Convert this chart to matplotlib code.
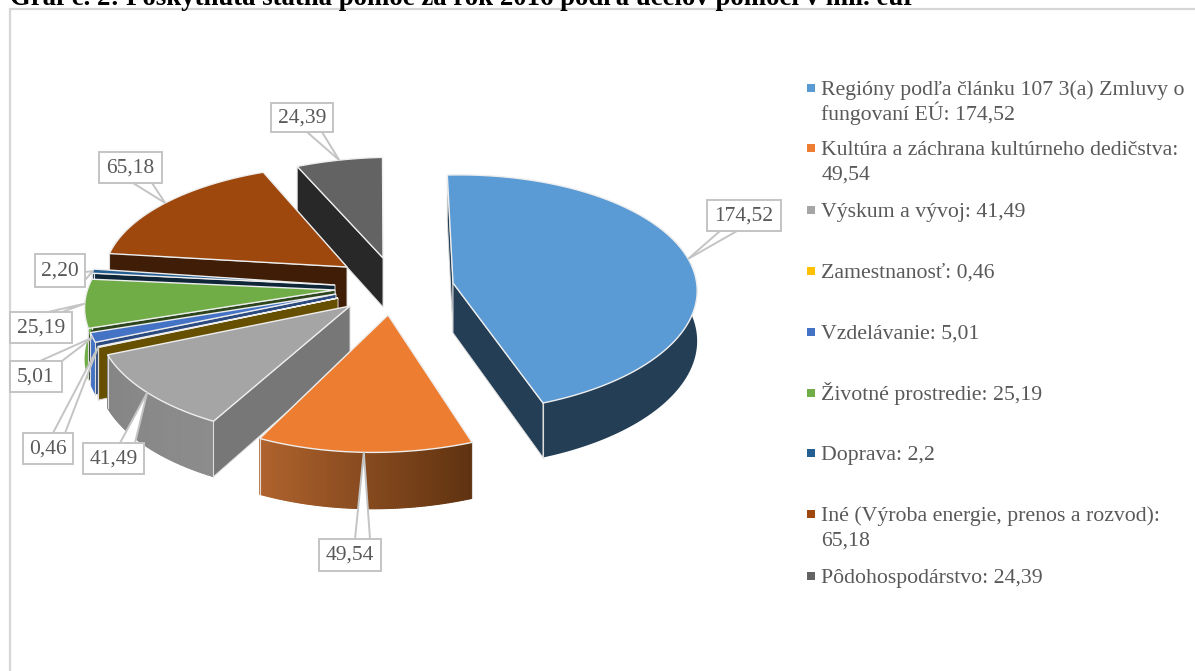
import numpy as np
import matplotlib
matplotlib.use('Agg')
import matplotlib.pyplot as plt
from matplotlib.patches import Polygon, Rectangle
from matplotlib.collections import PolyCollection

title = 'Graf č. 2: Poskytnutá štátna pomoc za rok 2016 podľa účelov pomoci v mil. eur'
values = [174.52, 49.54, 41.49, 0.46, 5.01, 25.19, 2.20, 65.18, 24.39]
legend_text = ['Regióny podľa článku 107 3(a) Zmluvy o\nfungovaní EÚ: 174,52',
               'Kultúra a záchrana kultúrneho dedičstva:\n49,54',
               'Výskum a vývoj: 41,49',
               'Zamestnanosť: 0,46',
               'Vzdelávanie: 5,01',
               'Životné prostredie: 25,19',
               'Doprava: 2,2',
               'Iné (Výroba energie, prenos a rozvod):\n65,18',
               'Pôdohospodárstvo: 24,39']

# farby
top_col = ['#5b9bd5', '#ed7d31', '#a5a5a5', '#ffc000', '#4472c4', '#70ad47', '#255e91', '#9e480e', '#636363']
wall_col = ['#243e56', '#5f3210', '#777777', '#665000', '#2b4a80', '#2c451c', '#0f2639', '#3f1d06', '#282828']
rim_dark = ['#243e56', '#5f3210', '#8c8c8c', '#665000', '#4472c4', '#70ad47', '#1c4a70', '#3f1d06', '#282828']
rim_light = ['#243e56', '#b0632d', '#858585', '#665000', '#4472c4', '#70ad47', '#1c4a70', '#3f1d06', '#282828']

# vrcholy vyrezov v obrazku a korekcie tvaru kazdeho vyrezu
apex_x = [453, 388, 350, 338, 336, 335, 335, 347, 383]
apex_y = [283, 315, 306, 298, 294, 290, 285, 267, 258]
shear_x = [6, 15, 25, 22, 25, 30, 8, 14, 11]
shear_y = [0, 0, 8, 7, 7, 7, 8, 6, 0]
ry_list = [118, 122, 118, 118, 118, 118, 118, 112, 112]
cx, cy = 385, 285
rx, persp, depth = 244, 0.09, 50
start_deg = -3

legend_y = [88, 148, 210, 271, 332, 393, 453, 514, 576]

# box: x0, y0, x1, y1, zaklad sipky (x1, y1, x2, y2)
boxes = [(707, 200, 781, 231, 720, 231, 737, 231),
         (319, 539, 381, 571, 355, 539, 370, 539),
         (83, 443, 144, 474, 120, 443, 135, 443),
         (23, 433, 73, 464, 53, 433, 65, 433),
         (10, 361, 62, 392, 40, 361, 62, 361),
         (10, 312, 72, 343, 48, 312, 62, 312),
         (35, 254, 85, 287, 85, 272, 85, 280),
         (99, 152, 162, 183, 133, 183, 152, 183),
         (271, 103, 333, 132, 307, 132, 322, 132)]


def fmt(v):
    return f'{v:.2f}'.replace('.', ',')


def project(x, y, z, i):
    # perspektiva, y ide dozadu
    oy = (cy - apex_y[i]) / ry_list[i]
    s = 1 / (1 + persp * (y + oy))
    px = apex_x[i] + rx * x * s + shear_x[i] * y
    py = apex_y[i] - ry_list[i] * y * s + depth * z * s + shear_y[i] * x
    return px, py


def wall_visible(a0, p, pm):
    # stena je vidiet ked vrchna plocha lezi nad hranou
    ex, ey = p[0] - a0[0], p[1] - a0[1]
    side = ex * (pm[1] - a0[1]) - ey * (pm[0] - a0[0])
    return side * ex < 0


plt.rcParams['font.family'] = ['Liberation Serif', 'DejaVu Serif']
fig = plt.figure(figsize=(11.95, 6.71), dpi=100)
ax = fig.add_axes([0, 0, 1, 1])
ax.set_xlim(0, 1195)
ax.set_ylim(671, 0)
ax.axis('off')

ax.plot([10, 10, 1195], [671, 9, 9], color='#d6d6d6', lw=1.6, solid_joinstyle='miter', zorder=1)
ax.text(10, 5, title, fontsize=19.3, fontweight='bold', color='black', va='baseline', ha='left', zorder=1)

total = sum(values)
angles = np.radians(start_deg + np.cumsum([0] + values) / total * 360)
mid = {}

z = 5
for i in range(len(values) - 1, -1, -1):
    t = np.linspace(angles[i], angles[i + 1], max(4, int(values[i] * 2)))
    rim_top = np.array([project(np.sin(a), np.cos(a), 0, i) for a in t])
    rim_bot = np.array([project(np.sin(a), np.cos(a), 1, i) for a in t])
    a0 = project(0, 0, 0, i)
    a1 = project(0, 0, 1, i)
    am = (angles[i] + angles[i + 1]) / 2
    pm = project(np.sin(am), np.cos(am), 0, i)
    mid[i] = pm
    # steny
    for k in (0, -1):
        if wall_visible(a0, rim_top[k], pm):
            ax.add_patch(Polygon([a0, rim_top[k], rim_bot[k], a1], closed=True, fc=wall_col[i], ec='#dddddd', lw=0.7, zorder=z))
    z += 1
    # vonkajsia stena s prechodom
    c0 = np.array(matplotlib.colors.to_rgb(rim_dark[i]))
    c1 = np.array(matplotlib.colors.to_rgb(rim_light[i]))
    front = np.cos(t) < 0.5
    if front.any():
        if rim_dark[i] == rim_light[i]:
            ax.add_patch(Polygon(np.vstack([rim_top[front], rim_bot[front][::-1]]), closed=True, fc=rim_dark[i], ec='none', zorder=z))
        else:
            quads, cols = [], []
            for k in range(len(t) - 1):
                quads.append([rim_top[k], rim_top[k + 1], rim_bot[k + 1], rim_bot[k]])
                cols.append(c0 + (c1 - c0) * k / max(1, len(t) - 2))
            ax.add_collection(PolyCollection(quads, facecolors=cols, edgecolors=cols, linewidths=0.8, zorder=z))
        # bocne hrany
        idx = np.where(front)[0]
        for k in (idx[0], idx[-1]):
            if k in (0, len(t) - 1):
                ax.plot([rim_top[k][0], rim_bot[k][0]], [rim_top[k][1], rim_bot[k][1]], color='#dddddd', lw=0.8, zorder=z)
    z += 1
    ax.add_patch(Polygon(np.vstack([[a0], rim_top]), closed=True, fc=top_col[i], ec='#eeeeee', lw=1.0, zorder=z))
    z += 1

# popisky
for i, b in enumerate(boxes):
    x0, y0, x1, y1, bx1, by1, bx2, by2 = b
    ax.add_patch(Polygon([(bx1, by1), mid[i], (bx2, by2)], closed=True, fc='white', ec='#c4c4c4', lw=1.4, zorder=60))
    ax.add_patch(Rectangle((x0, y0), x1 - x0, y1 - y0, fc='white', ec='#c4c4c4', lw=1.4, zorder=61))
    ax.text((x0 + x1) / 2, (y0 + y1) / 2 + 0.5, fmt(values[i]), fontsize=15.5, color='#595959', ha='center', va='center', zorder=62)

# legenda
for i, txt in enumerate(legend_text):
    y = legend_y[i]
    ax.add_patch(Rectangle((807, y - 4), 8, 8, fc=top_col[i], ec='none', zorder=5))
    for j, line in enumerate(txt.split('\n')):
        ax.text(821.5, y + 7 + 25 * j, line, fontsize=15.7, color='#595959', ha='left', va='baseline', zorder=5)

fig.savefig('out.png', dpi=100)
